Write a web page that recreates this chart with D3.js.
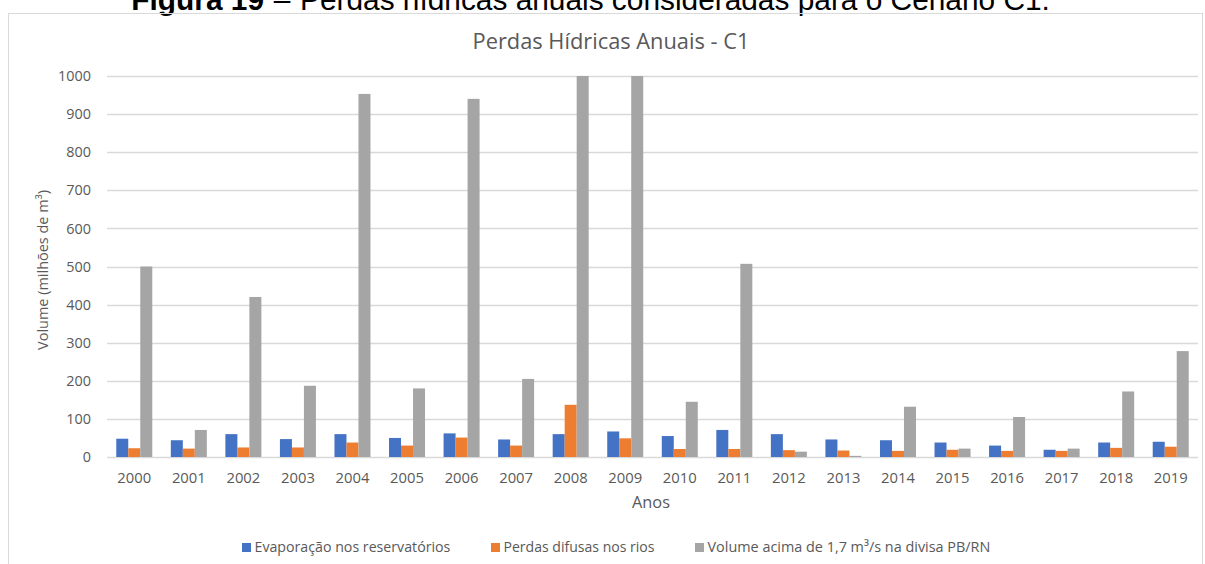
<!DOCTYPE html>
<html>
<head>
<meta charset="utf-8">
<script src="https://cdn.jsdelivr.net/npm/d3@7"></script>
<style>
  body { margin: 0; background: #fff; }
  svg { display: block; }
</style>
</head>
<body>
<div id="chart"></div>
<script>
// data
const years = ['2000','2001','2002','2003','2004','2005','2006','2007','2008','2009',
               '2010','2011','2012','2013','2014','2015','2016','2017','2018','2019'];
const evaporacao = [48, 44, 60, 47, 60, 50, 62, 46, 60, 67, 55, 71, 60, 46, 44, 38, 30, 19, 38, 40];
const perdasDifusas = [23, 22, 25, 25, 38, 30, 51, 30, 137, 49, 21, 21, 18, 17, 16, 19, 16, 16, 24, 27];
const volumeAcima = [500, 71, 420, 187, 953, 180, 940, 205, 1000, 1000, 145, 507, 14, 3, 132, 22, 105, 22, 172, 278];
const seriesNames = ['Evaporação nos reservatórios', 'Perdas difusas nos rios', 'Volume acima de 1,7 m³/s na divisa PB/RN'];
const seriesColors = ['#4472C4', '#ED7D31', '#A5A5A5'];
const yTicks = [0, 100, 200, 300, 400, 500, 600, 700, 800, 900, 1000];

const width = 1205, height = 564;
const margin = { top: 76, right: 7, bottom: 107, left: 107 };
const font = '"Open Sans", sans-serif';
const textColor = '#595959';

const svg = d3.select('#chart').append('svg')
  .attr('width', width)
  .attr('height', height);

// scale a text's font size so its width matches the reference
function fitWidth(sel, target) {
  sel.each(function() {
    const fs = parseFloat(this.getAttribute('font-size'));
    const w = this.getComputedTextLength();
    this.setAttribute('font-size', (fs * target / w).toFixed(2));
  });
}

// caption above the chart (its upper half is cut off in the original)
const capFont = '"Liberation Sans Narrow", "Liberation Sans", Arial, sans-serif';
const capText = svg.append('text')
  .attr('x', 300).attr('y', 10)
  .attr('font-family', capFont).attr('font-size', 30)
  .text('Perdas hídricas anuais consideradas para o Cenário C1.');
fitWidth(capText, 750);
const capSize = capText.attr('font-size');

svg.append('text')
  .attr('x', 264).attr('y', 10)
  .attr('text-anchor', 'end')
  .attr('font-family', capFont).attr('font-size', capSize)
  .attr('font-weight', 'bold')
  .text('Figura 19');
svg.append('text')
  .attr('x', 282).attr('y', 10)
  .attr('text-anchor', 'middle')
  .attr('font-family', capFont).attr('font-size', capSize)
  .text('–');

// chart area border
svg.append('rect')
  .attr('x', 8.5)
  .attr('y', 13.5)
  .attr('width', 1194)
  .attr('height', 560)
  .attr('fill', 'none')
  .attr('stroke', '#D9D9D9');

const x = d3.scaleBand()
  .domain(years)
  .range([margin.left, width - margin.right])
  .paddingInner(0.34)
  .paddingOuter(0.17);

const x1 = d3.scaleBand()
  .domain(d3.range(3))
  .range([0, x.bandwidth()]);

const y = d3.scaleLinear()
  .domain([0, 1000])
  .range([height - margin.bottom, margin.top]);

// gridlines
svg.append('g')
  .selectAll('line')
  .data(yTicks)
  .join('line')
  .attr('x1', margin.left)
  .attr('x2', width - margin.right)
  .attr('y1', d => Math.round(y(d)) + 0.5)
  .attr('y2', d => Math.round(y(d)) + 0.5)
  .attr('stroke', '#D9D9D9')
  .attr('stroke-width', 1.3);

// y tick labels
svg.append('g')
  .selectAll('text')
  .data(yTicks)
  .join('text')
  .attr('x', 91)
  .attr('y', d => y(d))
  .attr('dy', '0.36em')
  .attr('text-anchor', 'end')
  .attr('font-family', font)
  .attr('font-size', 14.4)
  .attr('fill', textColor)
  .text(d => d);

// bars
const table = years.map((yr, i) => ({ year: yr, values: [evaporacao[i], perdasDifusas[i], volumeAcima[i]] }));

svg.append('g')
  .selectAll('g')
  .data(table)
  .join('g')
  .attr('transform', d => `translate(${x(d.year)},0)`)
  .selectAll('rect')
  .data(d => d.values.map((v, k) => ({ k, v })))
  .join('rect')
  .attr('x', d => x1(d.k))
  .attr('width', x1.bandwidth())
  .attr('y', d => y(Math.min(d.v, 1000)))
  .attr('height', d => y(0) - y(Math.min(d.v, 1000)))
  .attr('fill', d => seriesColors[d.k]);

// x tick labels
svg.append('g')
  .selectAll('text')
  .data(years)
  .join('text')
  .attr('x', d => x(d) + x.bandwidth() / 2)
  .attr('y', 483)
  .attr('text-anchor', 'middle')
  .attr('font-family', font)
  .attr('font-size', 14.8)
  .attr('fill', textColor)
  .text(d => d);

// titles
svg.append('text')
  .attr('x', 611)
  .attr('y', 49)
  .attr('text-anchor', 'middle')
  .attr('font-family', font)
  .attr('font-size', 20)
  .attr('fill', textColor)
  .text('Perdas Hídricas Anuais - C1')
  .call(fitWidth, 277);

svg.append('text')
  .attr('x', 651)
  .attr('y', 508)
  .attr('text-anchor', 'middle')
  .attr('font-family', font)
  .attr('font-size', 16)
  .attr('fill', textColor)
  .text('Anos')
  .call(fitWidth, 38);

svg.append('text')
  .attr('transform', 'translate(48,270) rotate(-90)')
  .attr('text-anchor', 'middle')
  .attr('font-family', font)
  .attr('font-size', 14)
  .attr('fill', textColor)
  .text('Volume (milhões de m³)')
  .call(fitWidth, 160);

// legend
const legendX = [242, 491, 695];
const legendW = [196, 151, 283];
const legend = svg.append('g')
  .selectAll('g')
  .data(seriesNames)
  .join('g')
  .attr('transform', (d, i) => `translate(${legendX[i]},552)`);

legend.append('rect')
  .attr('x', 0)
  .attr('y', -9)
  .attr('width', 9)
  .attr('height', 9)
  .attr('fill', (d, i) => seriesColors[i]);

legend.append('text')
  .attr('x', 12.5)
  .attr('y', 0)
  .attr('font-family', font)
  .attr('font-size', 13)
  .attr('fill', textColor)
  .text(d => d)
  .each(function(d, i) { fitWidth(d3.select(this), legendW[i]); });
</script>
</body>
</html>
